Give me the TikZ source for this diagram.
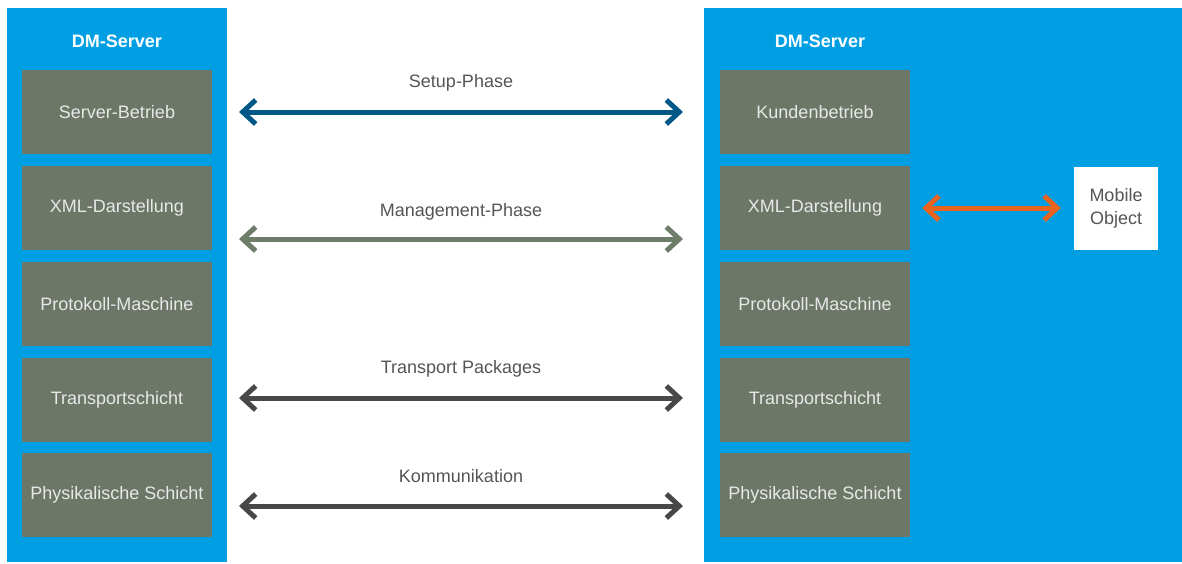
\documentclass[tikz,border=0pt]{standalone}
\usepackage{fontspec}
\setmainfont{Liberation Sans}
\usetikzlibrary{arrows.meta,calc}
\definecolor{panelblue}{RGB}{0,159,227}
\definecolor{boxgray}{RGB}{109,119,104}
\definecolor{boxtext}{RGB}{232,232,232}
\definecolor{setupblue}{RGB}{0,88,134}
\definecolor{mgmtgreen}{RGB}{110,124,106}
\definecolor{darkarrow}{RGB}{72,72,72}
\definecolor{orangearrow}{RGB}{232,100,30}
\definecolor{labelgray}{RGB}{85,85,85}
\tikzset{
  panel/.style={fill=panelblue, draw=none, inner sep=0pt, minimum width=220pt, minimum height=554pt, anchor=north west},
  layerbox/.style={fill=boxgray, draw=none, inner sep=0pt, minimum width=190pt, minimum height=84pt, text=boxtext, font=\fontsize{18}{21}\selectfont},
  title/.style={text=white, font=\fontsize{18}{21}\selectfont\bfseries},
  mobilebox/.style={fill=white, draw=none, inner sep=0pt, minimum width=84pt, minimum height=83pt, text=labelgray, align=center, font=\fontsize{18}{23}\selectfont},
  phaselabel/.style={text=labelgray, font=\fontsize{18}{21}\selectfont},
  dblarrow/.style={line width=5pt, {Straight Barb[length=13pt,width=24pt]}-{Straight Barb[length=13pt,width=24pt]}}
}
\begin{document}
\begin{tikzpicture}[x=1pt,y=-1pt]
\useasboundingbox (0,0) rectangle (1182,563);
\node[panel] (lp) at (7,8) {};
\node[panel, minimum width=478pt] (rp) at (704,8) {};
\node[title] (lt) at (117,41) {DM-Server};
\node[title] (rt) at (820,41) {DM-Server};
% left layers
\node[layerbox] (l1) at (117,112) {Server-Betrieb};
\node[layerbox] (l2) at (117,208) {XML-Darstellung};
\node[layerbox] (l3) at (117,304) {Protokoll-Maschine};
\node[layerbox] (l4) at (117,400) {Transportschicht};
\node[layerbox] (l5) at (117,495) {Physikalische Schicht};
% right layers
\node[layerbox] (r1) at (815,112) {Kundenbetrieb};
\node[layerbox] (r2) at (815,208) {XML-Darstellung};
\node[layerbox] (r3) at (815,304) {Protokoll-Maschine};
\node[layerbox] (r4) at (815,400) {Transportschicht};
\node[layerbox] (r5) at (815,495) {Physikalische Schicht};
% mobile object
\node[mobilebox] (mo) at (1116,208) {Mobile\\Object};
% arrow end coordinates
\coordinate (a1l) at (239,112); \coordinate (a1r) at (683,112);
\coordinate (a2l) at (239,239); \coordinate (a2r) at (683,239);
\coordinate (a4l) at (239,398); \coordinate (a4r) at (683,398);
\coordinate (a5l) at (239,506); \coordinate (a5r) at (683,506);
% arrows
\draw[dblarrow, setupblue] (a1l) -- (a1r);
\draw[dblarrow, mgmtgreen] (a2l) -- (a2r);
\draw[dblarrow, darkarrow] (a4l) -- (a4r);
\draw[dblarrow, darkarrow] (a5l) -- (a5r);
\draw[dblarrow, orangearrow, shorten <=12pt, shorten >=13pt] (r2.east) -- (mo.west);
% labels
\node[phaselabel] (s1) at (461,83) {Setup-Phase};
\node[phaselabel] (s2) at (461,212) {Management-Phase};
\node[phaselabel] (s4) at (461,369) {Transport Packages};
\node[phaselabel] (s5) at (461,476) {Kommunikation};
\end{tikzpicture}
\end{document}
